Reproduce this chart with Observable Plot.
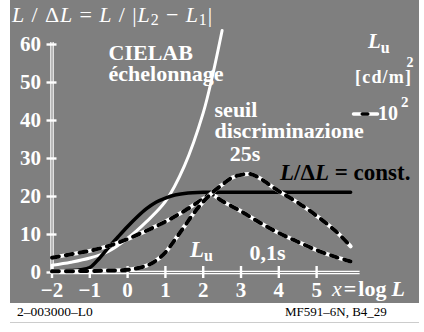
<!DOCTYPE html>
<html><head><meta charset="utf-8">
<script src="https://cdn.jsdelivr.net/npm/d3@7"></script>
<script src="https://cdn.jsdelivr.net/npm/@observablehq/plot@0.6"></script>
<style>html,body{margin:0;padding:0;background:#fff} svg{display:block}</style>
</head><body><div id="chart"></div>
<script>
// ---- data (x = log L, y = L / ΔL) ----
const cielabX = [-2, -1.5, -1, -0.5, 0, 0.5, 1, 1.5, 2, 2.25, 2.5];
const cielabY = [1.9, 2.7, 3.8, 5.6, 9, 13.4, 18.7, 28, 42, 52, 63.7];

const constX = [-2, -1.5, -1.25, -1, -0.75, -0.5, -0.25, 0, 0.25, 0.5, 0.75, 1, 1.25, 1.5, 2, 3, 4, 5, 5.9];
const constY = [0.4, 0.5, 0.7, 1.3, 3.7, 6.6, 9.4, 12.1, 14.6, 16.8, 18.5, 19.6, 20.4, 20.8, 21.1, 21.1, 21.1, 21.1, 21.1];

const t01X = [-2, -1.5, -1, -0.5, 0, 0.5, 1, 1.5, 2, 2.2, 2.5, 3, 3.5, 4, 4.5, 5, 5.5, 5.9];
const t01Y = [3.9, 4.8, 5.7, 7.0, 8.8, 11.0, 13.4, 16.2, 19.4, 20.6, 18.8, 16.1, 13.1, 10.4, 8.1, 5.9, 4.1, 2.9];

const t25X = [-2, -1, -0.5, 0, 0.5, 0.75, 1, 1.25, 1.5, 1.75, 2, 2.25, 2.5, 2.75, 3, 3.25, 3.5, 3.75, 4, 4.5, 5, 5.5, 5.9];
const t25Y = [0.3, 0.4, 0.5, 0.7, 1.8, 3.1, 5.3, 8.6, 12.1, 15.6, 18.6, 21.1, 23.1, 24.9, 25.7, 25.9, 24.8, 23.1, 21.4, 18.4, 14.9, 10.9, 6.9];

const xTicks = [-2, -1, 0, 1, 2, 3, 4, 5];
const yTicks = [0, 10, 20, 30, 40, 50, 60];

const titleParts = ["L", " / Δ", "L", " = ", "L", " / |", "L", "2", " − ", "L", "1", "|"];
const plainLabels = ["CIELAB", "échelonnage", "seuil", "discriminazione", "25s", "0,1s"];
const footLeft = "2–003000–L0";
const footRight = "MF591–6N, B4_29";

// ---- layout (positions in data units, separate from data) ----
const plainPos = [[-0.505, 55.8], [-0.505, 50.5], [2.30, 40.8], [2.30, 35.3], [2.70, 29.3], [3.225, 3.2]];

const zip = (xs, ys) => xs.map((x, i) => ({x, y: ys[i]}));
const cielab = zip(cielabX, cielabY);
const constant = zip(constX, constY);
const t01 = zip(t01X, t01Y);
const t25 = zip(t25X, t25Y);
const labels = plainLabels.map((t, i) => ({t, x: plainPos[i][0], y: plainPos[i][1]}));

const serif = "'Liberation Serif','Times New Roman',Times,serif";
const W = "white";

const dashed = (data) => [
  Plot.line(data, {x: "x", y: "y", stroke: W, strokeWidth: 4, curve: "catmull-rom"}),
  Plot.line(data, {x: "x", y: "y", stroke: "black", strokeWidth: 4, strokeDasharray: "7,7", curve: "catmull-rom"})
];

const swatchW = [{x: 5.976, y: 41.7}, {x: 6.611, y: 41.7}];
const swatchB = [{x: 6.206, y: 41.7}, {x: 6.354, y: 41.7}];

const plot = Plot.plot({
  width: 424, height: 332,
  marginLeft: 51.5, marginRight: 64.4, marginTop: 42.1, marginBottom: 60,
  style: {background: "transparent", fontFamily: serif, overflow: "visible"},
  x: {domain: [-2, 6.15], axis: null, label: null},
  y: {domain: [0, 60.5], axis: null, label: null},
  marks: [
    Plot.ruleY([0], {stroke: W, strokeWidth: 1.2, dy: -1.15}),
    Plot.ruleY([0], {stroke: W, strokeWidth: 1.2, dy: 1.15}),
    Plot.ruleX([-2], {stroke: W, strokeWidth: 1.2, dx: -1.15, insetBottom: -1.5}),
    Plot.ruleX([-2], {stroke: W, strokeWidth: 1.2, dx: 1.15, insetBottom: -1.5}),
    Plot.axisX(xTicks, {tickSize: 12, dy: -6, tickFormat: () => "", stroke: W, strokeWidth: 2.4, label: null}),
    Plot.axisX(xTicks, {tickSize: 0, tickPadding: 10, fontSize: 21, fontWeight: "bold", fill: W, fontFamily: serif, label: null}),
    Plot.axisY(yTicks, {tickSize: 10, dx: 5, tickFormat: () => "", stroke: W, strokeWidth: 2.4, label: null}),
    Plot.axisY(yTicks, {tickSize: 0, tickPadding: 11, fontSize: 21, fontWeight: "bold", fill: W, fontFamily: serif, label: null}),
    Plot.line(cielab, {x: "x", y: "y", stroke: W, strokeWidth: 3, curve: "catmull-rom"}),
    Plot.line(constant, {x: "x", y: "y", stroke: "black", strokeWidth: 3.5, curve: "catmull-rom"}),
    ...dashed(t01),
    ...dashed(t25),
    Plot.line(swatchW, {x: "x", y: "y", stroke: W, strokeWidth: 3.5}),
    Plot.line(swatchB, {x: "x", y: "y", stroke: "black", strokeWidth: 3.5}),
    Plot.text(labels, {x: "x", y: "y", text: "t", textAnchor: "start", lineAnchor: "bottom", fill: W, fontSize: 22, fontWeight: "bold", fontFamily: serif})
  ]
});

const svg = d3.select(plot);
svg.insert("rect", ":first-child").attr("x", 10).attr("y", 0).attr("width", 409).attr("height", 303).attr("fill", "#7f7f7f");
svg.append("line").attr("x1", 10).attr("x2", 419).attr("y1", 322.5).attr("y2", 322.5).attr("stroke", "#cccccc").attr("stroke-width", 1);

const sx = plot.scale("x"), sy = plot.scale("y");
function rich(px, py, parts, o = {}) {
  const t = svg.append("text").attr("x", px).attr("y", py)
    .attr("text-anchor", "start")
    .attr("font-family", serif).attr("font-size", o.size || 22)
    .attr("font-weight", o.weight || "bold").attr("fill", o.fill || W);
  if (o.ls) t.attr("letter-spacing", o.ls);
  for (const p of parts) {
    const s = t.append("tspan").text(p.t);
    if (p.i) s.attr("font-style", "italic");
    if (p.size) s.attr("font-size", p.size);
    if (p.dy) s.attr("dy", p.dy);
    if (p.dx) s.attr("dx", p.dx);
    if (p.w) s.attr("font-weight", p.w);
  }
  return t;
}
const at = (x, y) => [sx.apply(x), sy.apply(y)];

// title
rich(12, 22, [
  {t: titleParts[0], i: 1}, {t: titleParts[1]}, {t: titleParts[2], i: 1}, {t: titleParts[3]},
  {t: titleParts[4], i: 1}, {t: titleParts[5]}, {t: titleParts[6], i: 1},
  {t: titleParts[7], size: 16, dy: 3}, {t: titleParts[8], dy: -3}, {t: titleParts[9], i: 1},
  {t: titleParts[10], size: 16, dy: 3}, {t: titleParts[11], dy: -3}
], {size: 22, weight: "normal", ls: 0.9});

// L/ΔL = const.
rich(...at(4.045, 24.2), [{t: "L", i: 1}, {t: "/Δ"}, {t: "L", i: 1}, {t: " = const."}], {size: 23, fill: "black"});
// Lu (middle)
rich(...at(1.664, 3.9), [{t: "L", i: 1}, {t: "u", size: 16, dy: 4}], {size: 23});
// x = log L
rich(...at(5.42, -6.4), [{t: "x", i: 1, w: "normal"}, {t: "=", dx: 2}, {t: "log", dx: 2}, {t: "L", i: 1, dx: 5}], {size: 22});
// legend
rich(...at(6.373, 58.9), [{t: "L", i: 1}, {t: "u", size: 16, dy: 5}], {size: 21});
rich(...at(6.029, 49.7), [{t: "[cd/m]"}], {size: 18, ls: 1.2});
rich(...at(7.39, 53.9), [{t: "2"}], {size: 14});
rich(...at(6.638, 39.9), [{t: "10"}], {size: 20});
rich(...at(7.246, 43.5), [{t: "2"}], {size: 15});

// footer
rich(17, 315.5, [{t: footLeft}], {size: 13.5, weight: "normal", fill: "black"});
rich(285, 315.5, [{t: footRight}], {size: 13, weight: "normal", fill: "black"});

document.getElementById("chart").appendChild(plot);
</script></body></html>
